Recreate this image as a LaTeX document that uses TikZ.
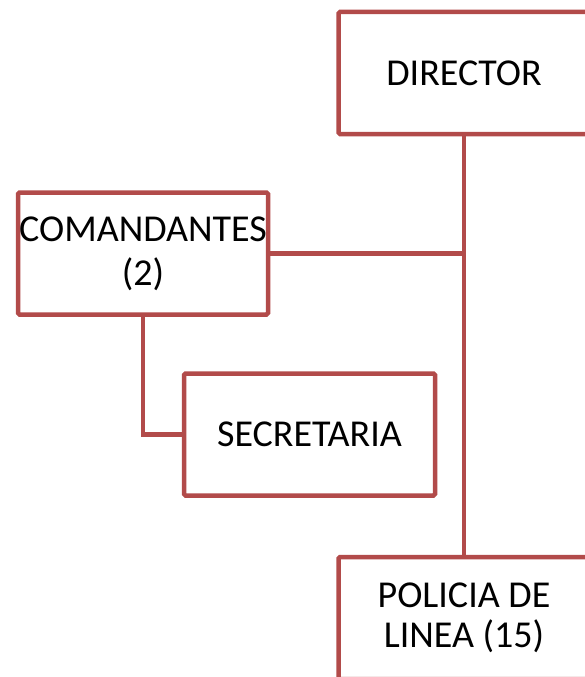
\documentclass[tikz,border=0pt]{standalone}
\usepackage{fontspec}
\setmainfont{Carlito}
\definecolor{boxred}{RGB}{178,75,74}
\begin{document}
\begin{tikzpicture}[x=1pt,y=-1pt,
  orgbox/.style={draw=boxred, line width=4.5pt, fill=white, rounded corners=1.5pt,
    minimum width=251pt, minimum height=122pt, inner sep=0pt, align=center,
    font=\fontsize{38}{44}\selectfont},
  link/.style={draw=boxred, line width=4.5pt}]
\useasboundingbox (0,0) rectangle (584,677);
\node[orgbox] (director) at (464,73) {DIRECTOR};
\node[orgbox, minimum width=250pt] (comand) at (143,253.5) {COMANDANTES\\(2)};
\node[orgbox] (secre) at (309.5,434.5) {SECRETARIA};
\node[orgbox, font=\fontsize{38}{40}\selectfont] (policia) at (464,618) {POLICIA DE\\LINEA (15)};
\coordinate (junc) at (director.south |- comand.east);
\draw[link] (director.south) -- (policia.north);
\draw[link] (comand.east) -- (junc);
\draw[link] (comand.south) |- (secre.west);
\end{tikzpicture}
\end{document}
